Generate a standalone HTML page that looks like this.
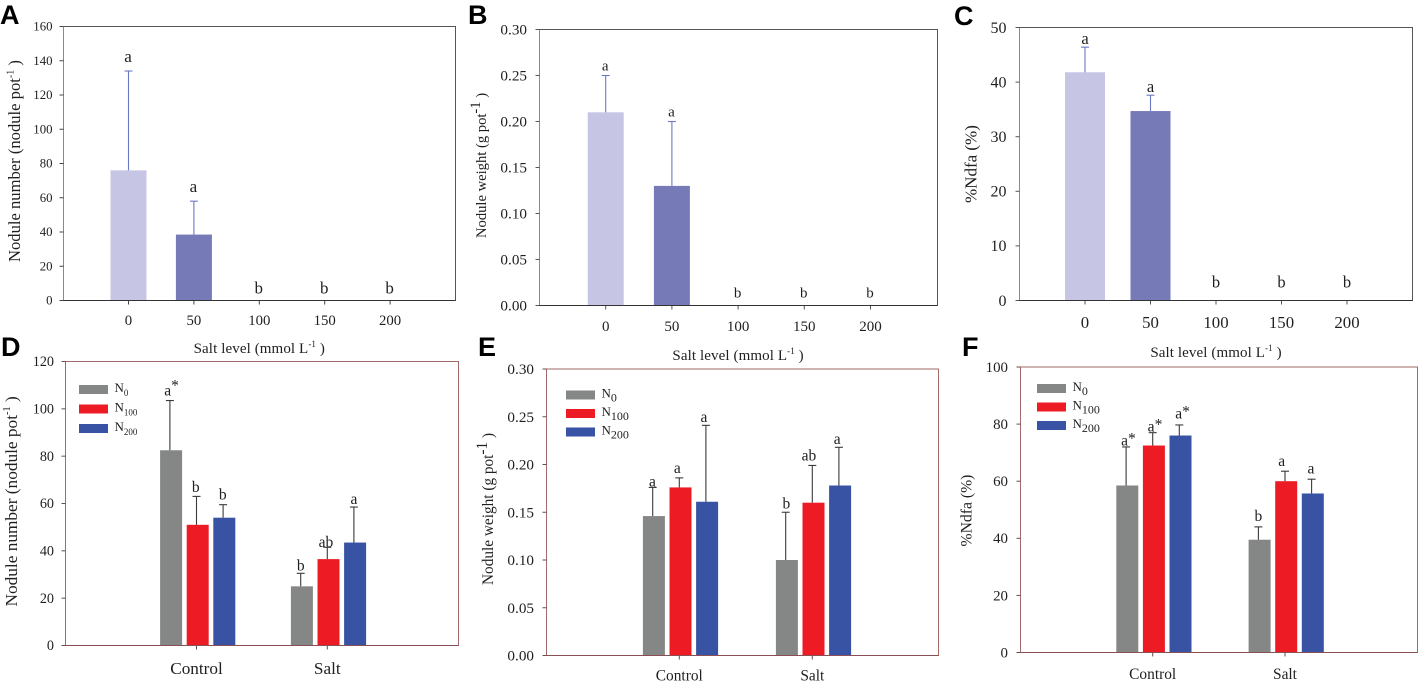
<!DOCTYPE html>
<html lang="en">
<head>
<meta charset="utf-8">
<title>Nodule number, nodule weight and %Ndfa under salt and nitrogen treatments</title>
<style>
html,body{margin:0;padding:0;background:#fff;width:1418px;height:682px;overflow:hidden}
svg{display:block}
text{font-family:"Liberation Serif",serif;fill:#1f1f1f}
.panel-letter{font-family:"Liberation Sans",sans-serif;font-weight:700;fill:#000}
</style>
</head>
<body>
<svg id="figure" width="1418" height="682" viewBox="0 0 1418 682" xmlns="http://www.w3.org/2000/svg"></svg>
<script>
// ---- Panel A data ----
const saltLevels = ['0', '50', '100', '150', '200'];
const aTicks = ['0', '20', '40', '60', '80', '100', '120', '140', '160'];
const aMeans = [76, 38.5, 0, 0, 0];
const aErrors = [58, 19.5, 0, 0, 0];
const aLetters = ['a', 'a', 'b', 'b', 'b'];
// ---- Panel B data ----
const bTicks = ['0.00', '0.05', '0.10', '0.15', '0.20', '0.25', '0.30'];
const bMeans = [0.21, 0.13, 0, 0, 0];
const bErrors = [0.04, 0.07, 0, 0, 0];
const bLetters = ['a', 'a', 'b', 'b', 'b'];
// ---- Panel C data ----
const cTicks = ['0', '10', '20', '30', '40', '50'];
const cMeans = [41.8, 34.7, 0, 0, 0];
const cErrors = [4.6, 2.9, 0, 0, 0];
const cLetters = ['a', 'a', 'b', 'b', 'b'];
// ---- Shared by panels D, E, F ----
const treatments = ['Control', 'Salt'];
const nitrogenLevels = ['100', '200'];
// ---- Panel D data ----
const dTicks = ['0', '20', '40', '60', '80', '100', '120'];
const dN0 = [82.5, 25];
const dN100 = [51, 36.5];
const dN200 = [54, 43.5];
const dN0Err = [21, 5.5];
const dN100Err = [12, 5];
const dN200Err = [5.5, 15];
const dN0Letters = ['a*', 'b'];
const dN100Letters = ['b', 'ab'];
const dN200Letters = ['b', 'a'];
// ---- Panel E data ----
const eTicks = ['0.00', '0.05', '0.10', '0.15', '0.20', '0.25', '0.30'];
const eN0 = [0.146, 0.1];
const eN100 = [0.176, 0.16];
const eN200 = [0.161, 0.178];
const eN0Err = [0.03, 0.05];
const eN100Err = [0.01, 0.039];
const eN200Err = [0.08, 0.04];
const eN0Letters = ['a', 'b'];
const eN100Letters = ['a', 'ab'];
const eN200Letters = ['a', 'a'];
// ---- Panel F data ----
const fTicks = ['0', '20', '40', '60', '80', '100'];
const fN0 = [58.5, 39.5];
const fN100 = [72.5, 60];
const fN200 = [76, 55.7];
const fN0Err = [13.5, 4.5];
const fN100Err = [4.5, 3.5];
const fN200Err = [3.7, 5];
const fN0Letters = ['a*', 'b'];
const fN100Letters = ['a*', 'a'];
const fN200Letters = ['a*', 'a'];

const SVG_NS = 'http://www.w3.org/2000/svg';
const figure = document.getElementById('figure');
const seriesColors = ['#858786', '#ed1c24', '#3953a4'];
const saltColors = ['#c6c5e4', '#767bb8'];

function make(tag, attrs, parent) {
  const node = document.createElementNS(SVG_NS, tag);
  for (const key in attrs) node.setAttribute(key, attrs[key]);
  (parent || figure).appendChild(node);
  return node;
}
function addSpan(parent, str, attrs) {
  const span = make('tspan', attrs || {}, parent);
  span.textContent = str;
  return span;
}
function linearY(f, ticks) {
  const max = parseFloat(ticks[ticks.length - 1]);
  return v => f.bottom - (v / max) * (f.bottom - f.top);
}

function drawFrame(f, ticks, id) {
  const y = linearY(f, ticks);
  const frame = make('rect', {x: f.left, y: f.top, width: f.right - f.left, height: f.bottom - f.top, fill: 'none', stroke: f.frameColor, 'stroke-width': 1});
  
  
  const yAxis = make('line', {x1: f.left, x2: f.left, y1: f.top, y2: f.bottom, stroke: f.leftColor, 'stroke-width': 1});
  
  
  const xAxis = make('line', {x1: f.left, x2: f.right, y1: f.bottom, y2: f.bottom, stroke: f.bottomColor, 'stroke-width': 1});
  
  
  ticks.forEach(t => {
    const py = y(parseFloat(t));
    const tick = make('line', {x1: f.left - 4, x2: f.left, y1: py, y2: py, stroke: f.tickColor, 'stroke-width': 1});
    
    
    const label = make('text', {x: f.yLabelX, y: py + f.yFont * 0.33, 'text-anchor': 'end', 'font-size': f.yFont});
    
    
    label.textContent = t;
  });
}
function drawPanelLetter(f, letter, id) {
  const node = make('text', {x: f.letterX, y: f.letterY, 'font-size': 27, class: 'panel-letter'});
  
  
  node.textContent = letter;
}
function drawYTitle(f, id) {
  const title = make('text', {transform: 'translate(' + f.titleX + ',' + f.titleY + ') rotate(-90)', 'font-size': f.titleFont});
  
  
  addSpan(title, f.title);
  if (f.titleSup) {
    addSpan(title, f.titleSup, {dy: -f.titleFont * 0.4, 'font-size': f.titleFont * f.supScale});
    addSpan(title, ' )', {dy: f.titleFont * 0.4});
  }
}
function drawBar(f, cx, w, yScale, mean, err, color, errColor, letter, errX, name, gap, dx) {
  const bar = make('rect', {x: cx - w / 2, y: yScale(mean), width: w, height: f.bottom - yScale(mean), fill: color});
  
  
  const top = yScale(mean + err);
  if (err > 0) {
    const g = make('g', {stroke: errColor, 'stroke-width': 1.1});
    
    
    make('line', {x1: errX, x2: errX, y1: yScale(mean), y2: top}, g);
    make('line', {x1: errX - f.cap, x2: errX + f.cap, y1: top, y2: top}, g);
  }
  const sig = make('text', {x: errX + dx, y: top - gap, 'text-anchor': 'middle', 'font-size': f.sigFont});
  
  
  if (letter.endsWith('*')) {
    addSpan(sig, letter.slice(0, -1));
    addSpan(sig, '*', {dy: -f.starRise});
  } else {
    addSpan(sig, letter);
  }
}

function drawSaltPanel(f, letter, id, ticks, means, errors, letters) {
  const y = linearY(f, ticks);
  drawPanelLetter(f, letter, id);
  drawYTitle(f, id);
  saltLevels.forEach((lvl, i) => {
    const cx = f.x0 + i * f.step;
    const tick = make('line', {x1: cx, x2: cx, y1: f.bottom, y2: f.bottom + 4, stroke: f.tickColor, 'stroke-width': 1});
    
    
    const label = make('text', {x: cx, y: f.xLabelY, 'text-anchor': 'middle', 'font-size': f.xFont});
    
    
    label.textContent = lvl;
    const gap = means[i] > 0 ? f.letterGap : f.zeroGap;
    drawBar(f, cx, f.barW, y, means[i], errors[i], saltColors[i] || saltColors[1], f.errColor, letters[i], cx, id + '-salt-' + lvl, gap, f.letterDx);
  });
  drawFrame(f, ticks, id);
  const xt = make('text', {x: f.x0 + 2 * f.step, y: f.xTitleY, 'text-anchor': 'middle', 'font-size': 15, 'letter-spacing': 0.1});
  
  
  addSpan(xt, 'Salt level (mmol L');
  addSpan(xt, '-1', {dy: -6, 'font-size': 9});
  addSpan(xt, ' )', {dy: 6});
}

function drawGroupPanel(f, letter, id, ticks, means, errors, letters) {
  const y = linearY(f, ticks);
  drawPanelLetter(f, letter, id);
  drawYTitle(f, id);
  treatments.forEach((name, g) => {
    const cx = f.x0 + g * f.step;
    const tick = make('line', {x1: cx, x2: cx, y1: f.bottom, y2: f.bottom + 4, stroke: f.tickColor, 'stroke-width': 1});
    
    
    const label = make('text', {x: cx, y: f.xLabelY, 'text-anchor': 'middle', 'font-size': f.xFont});
    
    
    label.textContent = name;
    means.forEach((series, s) => {
      const errX = cx + (s - 1) * f.spacing;
      drawBar(f, errX + f.barShift, f.barW, y, series[g], errors[s][g], seriesColors[s], f.errColor, letters[s][g], errX, id + '-' + name.toLowerCase() + '-n' + s, f.gapTable[s][g], f.dxTable[s][g]);
    });
  });
  drawFrame(f, ticks, id);
  ['0'].concat(nitrogenLevels).forEach((lvl, s) => {
    const top = f.legendTop + s * f.legendStep;
    const swatch = make('rect', {x: f.legendX, y: top, width: 29, height: 9, fill: seriesColors[s]});
    
    
    const entry = make('text', {x: f.legendX + 35.5, y: top + 7, 'font-size': 13});
    
    
    addSpan(entry, 'N');
    addSpan(entry, lvl, {dy: 4, 'font-size': f.legendSub});
  });
}

const GREY_A = {frameColor: '#555', leftColor: '#8a8a8a', bottomColor: '#333', tickColor: '#444', errColor: '#6b78c4', cap: 4, starRise: 4, supScale: 0.6};
const ROSE = {frameColor: '#a26a6a', leftColor: '#a26a6a', bottomColor: '#8a4f55', tickColor: '#6e4a4a', errColor: '#3a3a3a', cap: 4, starRise: 5, supScale: 0.6, barW: 22, spacing: 26.6, barShift: 1.2};

drawSaltPanel(Object.assign({}, GREY_A, {
  left: 63.5, right: 455.5, top: 26.5, bottom: 300.5, x0: 128.5, step: 65.4, barW: 36,
  yLabelX: 52.5, yFont: 12.8, xFont: 14.8, xLabelY: 325, xTitleY: 353,
  letterX: 0, letterY: 24, title: 'Nodule number (nodule pot', titleSup: '-1',
  titleX: 20, titleY: 262, titleFont: 16.6, sigFont: 17, letterGap: 9, zeroGap: 7, letterDx: -0.5
}), 'A', 'panel-a', aTicks, aMeans, aErrors, aLetters);

drawSaltPanel(Object.assign({}, GREY_A, {
  tickColor: '#555',
  left: 539.5, right: 937.5, top: 29.5, bottom: 305.5, x0: 605.7, step: 66.2, barW: 36,
  yLabelX: 527, yFont: 15.2, xFont: 15, xLabelY: 331, xTitleY: 360,
  letterX: 468, letterY: 24, title: 'Nodule weight (g pot', titleSup: '-1', supScale: 1,
  titleX: 486, titleY: 238, titleFont: 14.6, sigFont: 15, letterGap: 5, zeroGap: 8, letterDx: -0.5
}), 'B', 'panel-b', bTicks, bMeans, bErrors, bLetters);

drawSaltPanel(Object.assign({}, GREY_A, {
  tickColor: '#555',
  left: 1019.5, right: 1412.5, top: 27.5, bottom: 300.5, x0: 1085, step: 65.5, barW: 40,
  yLabelX: 1006.5, yFont: 16, xFont: 16.8, xLabelY: 328, xTitleY: 357,
  letterX: 954, letterY: 25, title: '%Ndfa (%)', titleSup: '',
  titleX: 976.5, titleY: 203, titleFont: 17, sigFont: 16.5, letterGap: 3, zeroGap: 13, letterDx: 0
}), 'C', 'panel-c', cTicks, cMeans, cErrors, cLetters);

drawGroupPanel(Object.assign({}, ROSE, {
  left: 65.5, right: 458.5, top: 361.5, bottom: 645.5, x0: 196.5, step: 130.8,
  yLabelX: 54, yFont: 14.2, xFont: 17.2, xLabelY: 674,
  letterX: 1, letterY: 356, title: 'Nodule number (nodule pot', titleSup: '-1',
  titleX: 17, titleY: 606.5, titleFont: 17.3, sigFont: 15.5,
  gapTable: [[5, 3], [4.5, 0.5], [5, 3]], dxTable: [[1.7, 0], [-0.7, -1.3], [-0.3, 0]],
  legendX: 79, legendTop: 385, legendStep: 19.5, legendSub: 9
}), 'D', 'panel-d', dTicks, [dN0, dN100, dN200], [dN0Err, dN100Err, dN200Err], [dN0Letters, dN100Letters, dN200Letters]);

drawGroupPanel(Object.assign({}, ROSE, {
  left: 546.5, right: 938.5, top: 369, bottom: 655.5, x0: 679.3, step: 133,
  yLabelX: 534, yFont: 15.2, xFont: 15.4, xLabelY: 680.5,
  letterX: 478, letterY: 356, title: 'Nodule weight (g pot', titleSup: '-1', supScale: 1,
  titleX: 493, titleY: 585, titleFont: 15.3, sigFont: 15.5,
  gapTable: [[1, 4], [5, 5], [3.5, 3.5]], dxTable: [[-0.3, 0.7], [-2, -3.3], [-2, -1.7]],
  legendX: 566, legendTop: 390.5, legendStep: 18.5, legendSub: 12
}), 'E', 'panel-e', eTicks, [eN0, eN100, eN200], [eN0Err, eN100Err, eN200Err], [eN0Letters, eN100Letters, eN200Letters]);

drawGroupPanel(Object.assign({}, ROSE, {
  left: 1020.5, right: 1417.5, top: 367, bottom: 652.5, x0: 1152.7, step: 132.3,
  yLabelX: 1008, yFont: 14.9, xFont: 15.4, xLabelY: 679,
  letterX: 962, letterY: 356, title: '%Ndfa (%)', titleSup: '',
  titleX: 971.5, titleY: 546.5, titleFont: 15.7, sigFont: 15.5,
  gapTable: [[1.5, 6], [1, 5], [6.5, 5.5]], dxTable: [[2.3, 0], [2.3, -3.3], [3.3, -0.7]],
  starRise: 2, legendX: 1037, legendTop: 384, legendStep: 18.5, legendSub: 12
}), 'F', 'panel-f', fTicks, [fN0, fN100, fN200], [fN0Err, fN100Err, fN200Err], [fN0Letters, fN100Letters, fN200Letters]);
</script>
</body>
</html>
